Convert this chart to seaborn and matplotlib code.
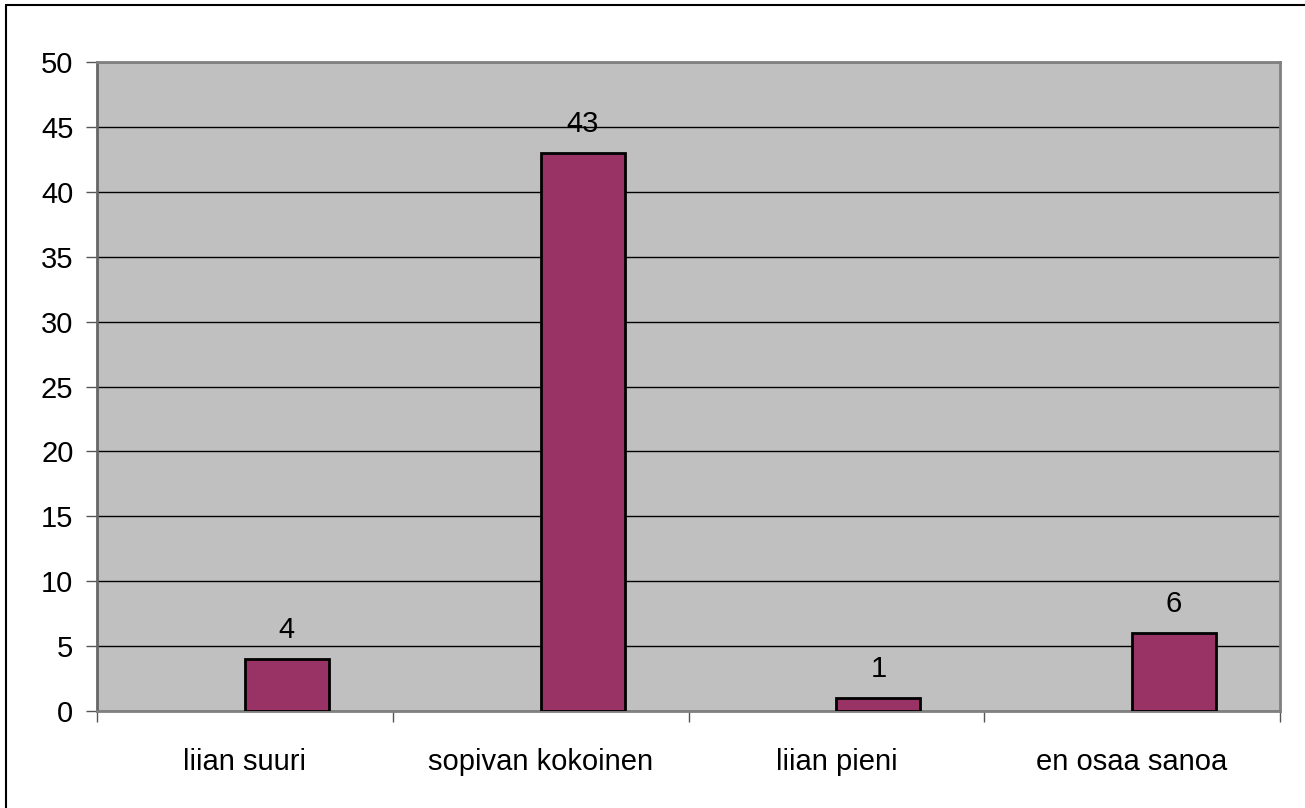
import matplotlib
matplotlib.use("Agg")
import matplotlib.pyplot as plt
import seaborn as sns
import pandas as pd
import numpy as np
from matplotlib.lines import Line2D

categories = ["liian suuri", "sopivan kokoinen", "liian pieni", "en osaa sanoa"]
values = [4, 43, 1, 6]
y_ticks = [0, 5, 10, 15, 20, 25, 30, 35, 40, 45, 50]

sns.set_theme(style="white")
plt.rcParams['font.family'] = ['Liberation Sans', 'DejaVu Sans']

# Excel-style clustered layout: an empty first series pushes bars right of centre
df = pd.DataFrame({
    "cat": categories * 2,
    "series": ["empty"] * len(categories) + ["main"] * len(categories),
    "val": [np.nan] * len(categories) + values,
})

fig = plt.figure(figsize=(13.05, 8.08), dpi=100)
ax = fig.add_axes([97/1305, 1 - 711/808, (1280-97)/1305, (711-62)/808])
ax.set_facecolor("#C0C0C0")

sns.barplot(data=df, x="cat", y="val", hue="series", hue_order=["empty", "main"],
            order=categories, palette={"empty": "#993366", "main": "#993366"},
            width=0.568, edgecolor="black", linewidth=2, legend=False, ax=ax,
            saturation=1, zorder=3)

ax.set_ylim(0, 50)
ax.set_xlim(-0.5, len(categories) - 0.5)
ax.set_yticks(y_ticks)
ax.yaxis.grid(True, color="black", linewidth=1)
ax.set_axisbelow(True)
for gl in ax.get_ygridlines():
    gl.set_zorder(1)
ax.set_xlabel("")
ax.set_ylabel("")

# value labels
for c in ax.containers:
    labs = ["" if np.isnan(v) else f"{int(v)}" for v in c.datavalues]
    ax.bar_label(c, labels=labs, padding=11, fontsize=21, color="black")

ax.tick_params(axis="y", which="major", length=8, width=1, color="#555555",
               labelsize=21, pad=9, left=True, direction="out", labelcolor="black")
ax.tick_params(axis="x", which="major", length=0, labelsize=21, pad=27, labelcolor="black")
ax.set_xticks(np.arange(-0.5, len(categories)), minor=True)
ax.tick_params(axis="x", which="minor", length=8, width=1, color="#555555",
               bottom=True, direction="out")

for s in ["top", "right", "left", "bottom"]:
    ax.spines[s].set_visible(True)
    ax.spines[s].set_color("#808080")
    ax.spines[s].set_linewidth(2)
ax.spines["left"].set_color("#666666")

# outer chart border (top and left visible)
fig.add_artist(Line2D([6/1305, 1.0], [1 - 5/808, 1 - 5/808], color="black", linewidth=1.5,
                      transform=fig.transFigure))
fig.add_artist(Line2D([6/1305, 6/1305], [0, 1 - 5/808], color="black", linewidth=1.5,
                      transform=fig.transFigure))

fig.savefig("out.png", dpi=100, facecolor="white")
